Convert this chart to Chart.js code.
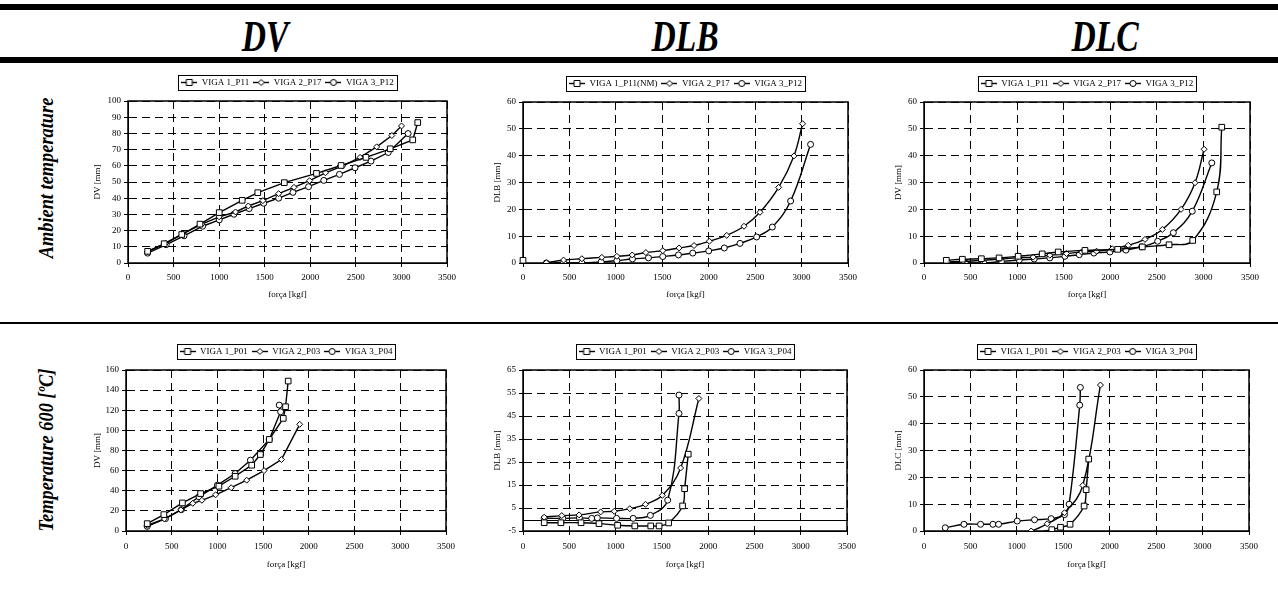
<!DOCTYPE html>
<html>
<head>
<meta charset="utf-8">
<script src="https://cdn.jsdelivr.net/npm/chart.js@4.4.0/dist/chart.umd.min.js"></script>
<style>
  html, body { margin: 0; padding: 0; background: #fff; }
  body { width: 1278px; height: 592px; position: relative; overflow: hidden; font-family: "Liberation Serif", serif; }
  .bar { position: absolute; left: 0; width: 1278px; background: #000; }
  .head { position: absolute; top: 36px; font: bold italic 32px "Liberation Serif"; line-height: 32px;
          transform: translate(-50%, -50%) scale(1.05, 1.4); white-space: nowrap; }
  .rowlab { position: absolute; left: 46px; font: bold italic 18px "Liberation Serif"; line-height: 18px;
            transform: translate(-50%, -50%) rotate(-90deg) scale(1.02, 1.15); white-space: nowrap; }
  canvas { position: absolute; }
</style>
</head>
<body>
<div class="bar" style="top:4px;height:6px"></div>
<div class="bar" style="top:57px;height:6px"></div>
<div class="bar" style="top:322px;height:2px"></div>
<div class="head" style="left:265px">DV</div>
<div class="head" style="left:685px">DLB</div>
<div class="head" style="left:1105px">DLC</div>
<div class="rowlab" style="top:178px">Ambient temperature</div>
<div class="rowlab" style="top:450px">Temperature 600 [ºC]</div>

<script>
// force axis: min, max, step
const forceRange = [0, 3500, 500];

// ---------- Ambient temperature : DV ----------
const ambDV_names = ['VIGA 1_P11', 'VIGA 2_P17', 'VIGA 3_P12'];
const ambDV_v1x = [215, 397, 590, 790, 1001, 1253, 1424, 1715, 2068, 2338, 2611, 2877, 3124, 3179];
const ambDV_v1y = [7.2, 11.9, 17.6, 24.0, 31.1, 38.7, 43.4, 49.6, 55.3, 60.2, 65.2, 70.5, 76.0, 86.7];
const ambDV_v2x = [215, 410, 600, 810, 1000, 1180, 1320, 1480, 1653, 1821, 1992, 2167, 2356, 2546, 2728, 2895, 3001];
const ambDV_v2y = [7.0, 12.0, 18.0, 24.0, 28.5, 31.5, 35.2, 38.5, 42.8, 46.7, 50.8, 55.7, 60.0, 65.2, 71.7, 78.7, 84.6];
const ambDV_v3x = [215, 419, 615, 819, 1001, 1162, 1329, 1489, 1653, 1810, 1981, 2148, 2320, 2491, 2666, 2855, 3073];
const ambDV_v3y = [6.1, 11.3, 16.8, 22.7, 26.6, 30.1, 33.6, 36.9, 40.0, 43.6, 47.1, 51.0, 54.7, 58.8, 62.9, 68.2, 79.9];

// ---------- Ambient temperature : DLB ----------
const ambDLB_names = ['VIGA 1_P11(NM)', 'VIGA 2_P17', 'VIGA 3_P12'];
const ambDLB_v1x = [0];
const ambDLB_v1y = [1.0];
const ambDLB_v2x = [251, 437, 634, 849, 1011, 1176, 1323, 1505, 1681, 1842, 2007, 2194, 2380, 2552, 2753, 2918, 3011];
const ambDLB_v2y = [0.1, 1.1, 1.6, 2.1, 2.5, 3.0, 3.9, 4.6, 5.6, 6.5, 8.1, 10.3, 13.7, 18.9, 28.2, 39.9, 51.9];
const ambDLB_v3x = [251, 437, 634, 842, 1011, 1179, 1351, 1505, 1674, 1828, 2000, 2168, 2337, 2516, 2685, 2882, 3097];
const ambDLB_v3y = [0.0, 0.1, 0.0, 0.4, 0.9, 1.5, 1.9, 2.4, 3.0, 3.7, 4.5, 5.6, 7.3, 9.7, 13.4, 23.1, 44.2];

// ---------- Ambient temperature : DLC ----------
const ambDLC_names = ['VIGA 1_P11', 'VIGA 2_P17', 'VIGA 3_P12'];
const ambDLC_v1x = [240, 412, 616, 806, 1011, 1269, 1441, 1728, 2079, 2344, 2631, 2885, 3143, 3197];
const ambDLC_v1y = [1.0, 1.4, 1.6, 1.9, 2.5, 3.4, 4.1, 4.7, 5.1, 6.0, 6.8, 8.4, 26.5, 50.6];
const ambDLC_v2x = [258, 419, 616, 806, 993, 1172, 1351, 1530, 1692, 1853, 2021, 2193, 2373, 2559, 2760, 2910, 3007];
const ambDLC_v2y = [0.4, 0.6, 1.0, 1.4, 1.9, 2.2, 2.9, 3.5, 4.1, 4.4, 5.3, 6.6, 8.8, 12.5, 20.0, 29.9, 42.4];
const ambDLC_v3x = [251, 444, 641, 831, 1022, 1183, 1351, 1513, 1667, 1824, 1996, 2168, 2337, 2509, 2677, 2880, 3090];
const ambDLC_v3y = [0.2, 0.0, 0.0, 0.6, 1.1, 1.5, 1.9, 2.5, 3.1, 3.7, 4.1, 4.8, 6.0, 8.1, 11.3, 19.3, 37.3];

// ---------- Temperature 600 : DV ----------
const t600DV_names = ['VIGA 1_P01', 'VIGA 2_P03', 'VIGA 3_P04'];
const t600DV_v1x = [232, 414, 617, 816, 1016, 1194, 1375, 1470, 1567, 1720, 1745, 1774];
const t600DV_v1y = [7.3, 16.3, 27.9, 37.2, 44.5, 54.4, 65.4, 76.0, 91.0, 111.9, 123.5, 149.0];
const t600DV_v2x = [232, 420, 600, 730, 830, 980, 1150, 1320, 1510, 1700, 1900];
const t600DV_v2y = [5.6, 12.0, 21.0, 27.5, 30.5, 36.0, 43.0, 50.5, 60.0, 71.0, 106.0];
const t600DV_v3x = [232, 432, 606, 798, 1000, 1194, 1361, 1567, 1691, 1676];
const t600DV_v3y = [4.6, 12.3, 21.2, 34.0, 45.6, 57.1, 70.4, 91.0, 118.5, 125.1];

// ---------- Temperature 600 : DLB ----------
const t600DLB_names = ['VIGA 1_P01', 'VIGA 2_P03', 'VIGA 3_P04'];
const t600DLB_v1x = [229, 409, 627, 821, 1022, 1208, 1380, 1470, 1573, 1724, 1746, 1785];
const t600DLB_v1y = [-1.4, -1.4, -1.4, -1.8, -2.5, -2.8, -2.8, -2.8, -1.5, 5.9, 13.4, 28.4];
const t600DLB_v2x = [229, 419, 606, 839, 986, 1154, 1323, 1505, 1703, 1900];
const t600DLB_v2y = [1.0, 1.7, 2.0, 3.3, 3.6, 4.7, 6.6, 10.5, 22.4, 52.6];
const t600DLB_v3x = [229, 430, 609, 742, 803, 1011, 1190, 1376, 1563, 1685, 1685];
const t600DLB_v3y = [0.5, 0.5, 0.7, 0.5, 0.7, 0.5, 0.5, 1.8, 8.4, 46.1, 54.1];

// ---------- Temperature 600 : DLC ----------
const t600DLC_names = ['VIGA 1_P01', 'VIGA 2_P03', 'VIGA 3_P04'];
const t600DLC_v1x = [229, 409, 627, 821, 1022, 1208, 1376, 1470, 1573, 1724, 1746, 1774];
const t600DLC_v1y = [-1.5, -1.5, -1.4, -1.3, -1.0, -0.6, 0.5, 1.4, 2.5, 9.3, 15.4, 26.8];
const t600DLC_v2x = [229, 419, 606, 839, 986, 1154, 1326, 1513, 1710, 1900];
const t600DLC_v2y = [-1.6, -1.5, -1.4, -1.2, -0.8, 0.0, 2.7, 6.8, 17.0, 54.4];
const t600DLC_v3x = [229, 430, 609, 742, 803, 1004, 1190, 1369, 1513, 1563, 1677, 1684];
const t600DLC_v3y = [1.2, 2.5, 2.5, 2.5, 2.5, 3.7, 4.2, 4.6, 6.1, 10.0, 46.9, 53.5];

// y axis ranges: min, max, step
const ambDV_range = [0, 100, 10];
const ambDLB_range = [0, 60, 10];
const ambDLC_range = [0, 60, 10];
const t600DV_range = [0, 160, 20];
const t600DLB_range = [-5, 65, 10];
const t600DLC_range = [0, 60, 10];

const FONT = '"Liberation Serif", "Times New Roman", serif';
Chart.defaults.font.family = FONT;
Chart.defaults.color = '#000';

const markers = ['rect', 'rectRot', 'circle'];
const markerRadius = { rect: 4, rectRot: 3, circle: 3 };

// small line+marker picture for the legend
function legendIcon(style) {
  const c = document.createElement('canvas');
  c.width = 16; c.height = 9;
  const g = c.getContext('2d');
  g.strokeStyle = '#000';
  g.lineWidth = 1.4;
  g.beginPath(); g.moveTo(0, 4.5); g.lineTo(16, 4.5); g.stroke();
  g.fillStyle = '#fff';
  g.lineWidth = 1;
  g.beginPath();
  if (style === 'rect') g.rect(5, 1.5, 6, 6);
  else if (style === 'rectRot') { g.moveTo(8, 1.5); g.lineTo(11, 4.5); g.lineTo(8, 7.5); g.lineTo(5, 4.5); g.closePath(); }
  else g.arc(8, 4.5, 3, 0, Math.PI * 2);
  g.fill(); g.stroke();
  return c;
}
const icons = markers.map(legendIcon);

// plot frame, zero line and legend box
const framePlugin = {
  id: 'frame',
  beforeLayout(chart) {
    const lg = chart.legend;
    if (lg && !lg._gapDone) {
      const fit = lg.fit;
      lg.fit = function () { fit.call(this); this.height += 4; };
      lg._gapDone = true;
    }
  },
  beforeDatasetsDraw(chart) {
    const { ctx, chartArea: a } = chart;
    const y = chart.scales.y;
    ctx.save();
    ctx.strokeStyle = '#000';
    if (y.min < 0) {
      const py = Math.round(y.getPixelForValue(0)) + 0.5;
      ctx.lineWidth = 1.2;
      ctx.beginPath(); ctx.moveTo(a.left, py); ctx.lineTo(a.right, py); ctx.stroke();
    }
    ctx.lineWidth = 1.5;
    ctx.strokeRect(a.left, a.top, a.right - a.left, a.bottom - a.top);
    ctx.restore();
  },
  afterDraw(chart) {
    const hb = chart.legend && chart.legend.legendHitBoxes;
    if (!hb || !hb.length) return;
    const first = hb[0], last = hb[hb.length - 1];
    const ctx = chart.ctx;
    ctx.save();
    ctx.strokeStyle = '#000';
    ctx.lineWidth = 1;
    const l = Math.round(first.left - 3) + 0.5;
    const t = Math.round(first.top - 3) + 0.5;
    const r = Math.round(last.left + last.width + 3) + 0.5;
    ctx.strokeRect(l, t, r - l, first.height + 6);
    ctx.restore();
  }
};

function makeChart(o) {
  const AXW = 40, PR = 14, PT = 2, LEGH = 27;
  const [L, R, T, B] = o.plot;
  const left = L - AXW, top = T - LEGH - PT;
  const cv = document.createElement('canvas');
  cv.width = R + PR - left;
  cv.height = B + o.axh - top;
  cv.style.left = left + 'px';
  cv.style.top = top + 'px';
  document.body.appendChild(cv);

  const yMin = o.yRange[0];
  const datasets = o.series.map((s, i) => ({
    label: o.names[i],
    data: s[0].map((x, k) => ({ x: x, y: s[1][k] })),
    borderColor: '#000',
    borderWidth: 1.4,
    pointStyle: markers[i],
    pointRadius: ctx => (ctx.raw && ctx.raw.y < yMin) ? 0 : markerRadius[markers[i]],
    pointBackgroundColor: '#fff',
    pointBorderColor: '#000',
    pointBorderWidth: 1,
    tension: o.smooth ? 0.4 : 0,
    clip: { left: 6, top: 6, right: 6, bottom: 0 }
  }));

  const plain = v => String(v);

  return new Chart(cv, {
    type: 'line',
    data: { datasets: datasets },
    plugins: [framePlugin],
    options: {
      responsive: false,
      animation: false,
      devicePixelRatio: 1,
      layout: { padding: { top: PT, right: PR, bottom: 0, left: 0 } },
      plugins: {
        tooltip: { enabled: false },
        legend: {
          position: 'top',
          fullSize: false,
          labels: {
            usePointStyle: true,
            pointStyleWidth: 16,
            boxHeight: 9,
            padding: 4,
            color: '#000',
            font: { family: FONT, size: 9 },
            generateLabels(chart) {
              const items = Chart.defaults.plugins.legend.labels.generateLabels(chart);
              items.forEach((it, i) => { it.pointStyle = icons[i]; });
              return items;
            }
          }
        }
      },
      scales: {
        x: {
          type: 'linear',
          min: forceRange[0], max: forceRange[1],
          afterFit(scale) { scale.height = o.axh; },
          ticks: { stepSize: forceRange[2], autoSkip: false, maxRotation: 0, padding: o.xpad, callback: plain,
                   color: '#000', font: { family: FONT, size: 9 } },
          grid: { color: '#000', lineWidth: 1, tickLength: 4, tickColor: '#000' },
          border: { display: true, color: '#000', width: 1, dash: [8, 5] },
          title: { display: true, text: 'força [kgf]', color: '#000', font: { family: FONT, size: 9 },
                   padding: { top: 0, bottom: 3 } }
        },
        y: {
          type: 'linear',
          min: o.yRange[0], max: o.yRange[1],
          afterFit(scale) { scale.width = AXW; },
          ticks: { stepSize: o.yRange[2], autoSkip: false, padding: 3, callback: plain,
                   color: '#000', font: { family: FONT, size: 9 } },
          grid: { color: '#000', lineWidth: 1, tickLength: 4, tickColor: '#000' },
          border: { display: true, color: '#000', width: 1, dash: [8, 5] },
          title: { display: true, text: o.yTitle, color: '#000', font: { family: FONT, size: 9 },
                   padding: { top: o.ytpad, bottom: 0 } }
        }
      }
    }
  });
}

makeChart({ plot: [128, 447, 101, 263], axh: 40, xpad: 5, ytpad: 4, smooth: false,
  yTitle: 'DV [mm]', yRange: ambDV_range, names: ambDV_names,
  series: [[ambDV_v1x, ambDV_v1y], [ambDV_v2x, ambDV_v2y], [ambDV_v3x, ambDV_v3y]] });

makeChart({ plot: [523, 848, 102, 263], axh: 40, xpad: 5, ytpad: 9, smooth: true,
  yTitle: 'DLB [mm]', yRange: ambDLB_range, names: ambDLB_names,
  series: [[ambDLB_v1x, ambDLB_v1y], [ambDLB_v2x, ambDLB_v2y], [ambDLB_v3x, ambDLB_v3y]] });

makeChart({ plot: [924, 1250, 102, 263], axh: 40, xpad: 5, ytpad: 9, smooth: true,
  yTitle: 'DV [mm]', yRange: ambDLC_range, names: ambDLC_names,
  series: [[ambDLC_v1x, ambDLC_v1y], [ambDLC_v2x, ambDLC_v2y], [ambDLC_v3x, ambDLC_v3y]] });

makeChart({ plot: [126, 447, 370, 531], axh: 42, xpad: 6, ytpad: 6, smooth: false,
  yTitle: 'DV [mm]', yRange: t600DV_range, names: t600DV_names,
  series: [[t600DV_v1x, t600DV_v1y], [t600DV_v2x, t600DV_v2y], [t600DV_v3x, t600DV_v3y]] });

makeChart({ plot: [523, 848, 370, 531], axh: 42, xpad: 6, ytpad: 9, smooth: true,
  yTitle: 'DLB [mm]', yRange: t600DLB_range, names: t600DLB_names,
  series: [[t600DLB_v1x, t600DLB_v1y], [t600DLB_v2x, t600DLB_v2y], [t600DLB_v3x, t600DLB_v3y]] });

makeChart({ plot: [924, 1250, 370, 531], axh: 42, xpad: 6, ytpad: 9, smooth: true,
  yTitle: 'DLC [mm]', yRange: t600DLC_range, names: t600DLC_names,
  series: [[t600DLC_v1x, t600DLC_v1y], [t600DLC_v2x, t600DLC_v2y], [t600DLC_v3x, t600DLC_v3y]] });
</script>
</body>
</html>
